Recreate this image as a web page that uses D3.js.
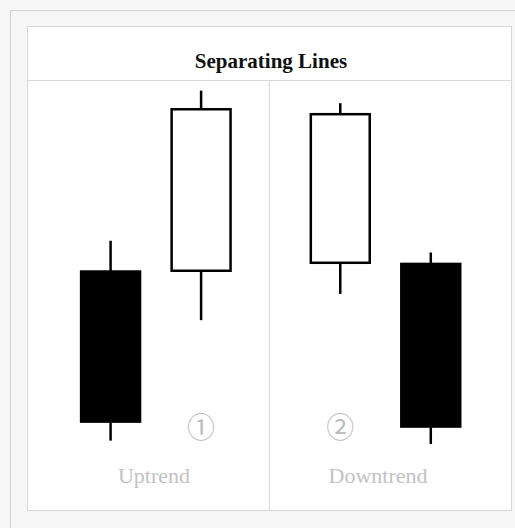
<!DOCTYPE html>
<html>
<head>
<meta charset="utf-8">
<script src="https://cdnjs.cloudflare.com/ajax/libs/d3/7.8.5/d3.min.js"></script>
<style>
  body { margin: 0; background: #f6f6f6; }
</style>
</head>
<body>
<div id="chart"></div>
<script>
// candles, left to right
let panels = ['Uptrend', 'Downtrend']
let candlePanel = [0, 0, 1, 1]
let opens  = [49.6, 49.8, 51.9, 51.6]
let highs  = [57.7, 97.2, 93.9, 54.6]
let lows   = [5.1, 36.8, 43.7, 4.2]
let closes = [10.1, 92.3, 91.0, 8.8]
let marks  = ['①', '②']
let markCandle = [1, 2]
let title = 'Separating Lines'

const width = 515, height = 528

const svg = d3.select('#chart')
  .append('svg')
    .attr('width', width)
    .attr('height', height)

// outer frame (runs off the page right and bottom)
svg.append('rect')
  .attr('x', 10.5).attr('y', 10.5)
  .attr('width', 560).attr('height', 560)
  .attr('fill', '#f6f6f6')
  .attr('stroke', '#d4d4d4')

// inner white box
const box = {left: 27.5, top: 26.5, right: 511.5, bottom: 510.5}
const titleBottom = 80.5
svg.append('rect')
  .attr('x', box.left).attr('y', box.top)
  .attr('width', box.right - box.left).attr('height', box.bottom - box.top)
  .attr('fill', '#fff')
  .attr('stroke', '#d8d8d8')

svg.append('line')
  .attr('x1', box.left).attr('x2', box.right)
  .attr('y1', titleBottom).attr('y2', titleBottom)
  .attr('stroke', '#d8d8d8')

svg.append('text')
  .attr('x', 271).attr('y', 68)
  .attr('text-anchor', 'middle')
  .style('font-family', '"Liberation Serif", serif')
  .style('font-weight', 'bold')
  .style('font-size', '21px')
  .attr('fill', '#111')
  .text(title)

// panels
const px = d3.scaleBand()
  .domain(panels)
  .range([box.left - 0.5, box.right + 1])

svg.append('line')
  .attr('x1', px('Downtrend') - 0.5).attr('x2', px('Downtrend') - 0.5)
  .attr('y1', titleBottom).attr('y2', box.bottom)
  .attr('stroke', '#d8d8d8')

// candle x scale inside each panel
const aligns = [0.58, 0.44]
function candleX(i) {
  let p = candlePanel[i]
  let x = d3.scaleBand()
    .domain([0, 1])
    .range([px(panels[p]), px(panels[p]) + px.bandwidth()])
    .paddingInner(0.349)
    .paddingOuter(0.5155)
    .align(aligns[p])
  let slot = candlePanel.slice(0, i).filter(d => d == p).length
  return {x: x(slot), w: x.bandwidth()}
}

const y = d3.scaleLinear()
  .domain([0, 100])
  .range([460, 80])

const candles = opens.map((o, i) => ({
  open: o, high: highs[i], low: lows[i], close: closes[i], i: i
}))

const g = svg.selectAll('g.candle')
  .data(candles)
  .enter()
  .append('g')
    .attr('class', 'candle')

// wicks
g.append('line')
  .attr('x1', d => candleX(d.i).x + candleX(d.i).w / 2)
  .attr('x2', d => candleX(d.i).x + candleX(d.i).w / 2)
  .attr('y1', d => y(d.high))
  .attr('y2', d => y(d.low))
  .attr('stroke', '#000')
  .attr('stroke-width', 2.5)

// bodies
g.append('rect')
  .attr('x', d => candleX(d.i).x)
  .attr('width', d => candleX(d.i).w)
  .attr('y', d => y(Math.max(d.open, d.close)))
  .attr('height', d => Math.abs(y(d.open) - y(d.close)))
  .attr('fill', d => d.close > d.open ? '#fff' : '#000')
  .attr('stroke', '#000')
  .attr('stroke-width', 2.5)

// circled numbers
svg.selectAll('text.mark')
  .data(marks)
  .enter()
  .append('text')
    .attr('class', 'mark')
    .attr('x', (d, k) => candleX(markCandle[k]).x + candleX(markCandle[k]).w / 2)
    .attr('y', 438)
    .attr('text-anchor', 'middle')
    .style('font-family', '"Noto Sans CJK JP", "DejaVu Sans", sans-serif')
    .style('font-size', '28px')
    .attr('fill', '#bdbdbd')
    .text(d => d)

// panel labels
svg.selectAll('text.label')
  .data(panels)
  .enter()
  .append('text')
    .attr('class', 'label')
    .attr('x', (d, k) => k == 0 ? 154 : 378)
    .attr('y', 483)
    .attr('text-anchor', 'middle')
    .style('font-family', '"Liberation Serif", serif')
    .style('font-size', '22px')
    .attr('fill', '#c2c2c2')
    .text(d => d)
</script>
</body>
</html>
